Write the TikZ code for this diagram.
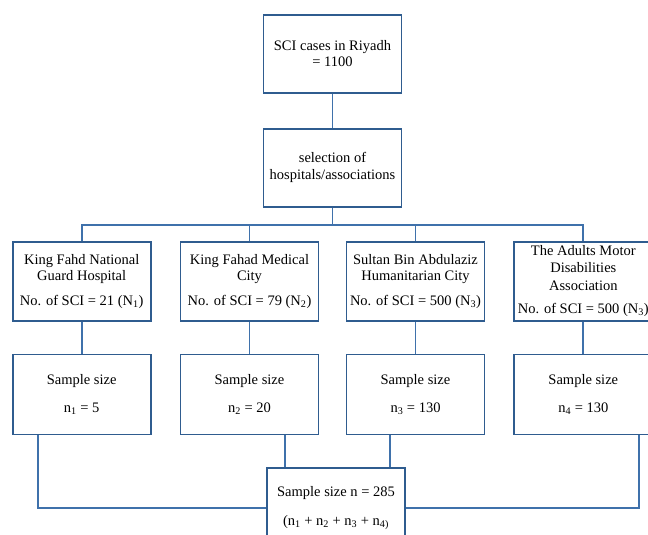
\documentclass[tikz,border=0pt]{standalone}
\usepackage{fontspec}
\setmainfont{Liberation Serif}
\usepackage{xcolor}
\definecolor{dark-blue}{HTML}{2F5C8F}
\definecolor{mid-blue}{HTML}{3F71AB}
\usepackage{tikz}
\usetikzlibrary{positioning}
\tikzset{box/.style = {draw=dark-blue, line width=1.8pt, align=center, text centered, inner sep=2pt, minimum width=138pt, minimum height=78pt}}
\tikzset{hosp/.style = {box, minimum height=79pt}}
\tikzset{sample/.style = {box, minimum height=80pt}}
\tikzset{conn/.style = {draw=mid-blue, line width=1.8pt}}

\begin{document}
\begin{tikzpicture}[x=1pt, y=1pt,
  font=\fontsize{14.5pt}{16pt}\selectfont
]
\useasboundingbox (0,0) rectangle (648,-535);

\node[box] (top) at (332.5,-54) {SCI cases in Riyadh\\= 1100};
\node[box, below=34pt of top] (sel) {selection of\\[1pt]hospitals/associations};
\node[hosp, below=33pt of sel, xshift=-83pt] (h2) {
  King Fahad Medical\\City\\[9pt]
  No. of SCI = 79 (N\textsubscript{2})
};
\node[hosp, below=33pt of sel, xshift=83pt] (h3) {
  Sultan Bin Abdulaziz\\Humanitarian City\\[9pt]
  No. of SCI = 500 (N\textsubscript{3})
};
\node[hosp, left=28pt of h2] (h1) {
  King Fahd National\\Guard Hospital\\[9pt]
  No. of SCI = 21 (N\textsubscript{1})
};
\node[hosp, right=28pt of h3] (h4) {
  The Adults Motor\\[1pt]Disabilities\\[2pt]Association\\[7pt]
  No. of SCI = 500 (N\textsubscript{3})
};

\node[sample, below=32pt of h1] (s1) {Sample size\\[12pt]n\textsubscript{1} = 5};
\node[sample, below=32pt of h2] (s2) {Sample size\\[12pt]n\textsubscript{2} = 20};
\node[sample, below=32pt of h3] (s3) {Sample size\\[12pt]n\textsubscript{3} = 130};
\node[sample, below=32pt of h4] (s4) {Sample size\\[12pt]n\textsubscript{4} = 130};

% bottom box sits between s2 and s3, a bit to the right
\coordinate (join) at (sel |- s2.south);
\node[box, below=32pt of join, xshift=3.5pt, minimum height=80pt] (total) {
  Sample size n = 285\\[13pt]
  (n\textsubscript{1} + n\textsubscript{2} + n\textsubscript{3} + n\textsubscript{4)}
};

\coordinate[below=17pt of sel] (fork);
\coordinate (d1) at ([xshift=-43.5pt]s1.south);
\coordinate (d2) at ([xshift=35.5pt]s2.south);
\coordinate (d3) at ([xshift=-25.5pt]s3.south);
\coordinate (d4) at ([xshift=55.5pt]s4.south);

\draw[conn]  (top) -- (sel);
\draw[conn]  (sel) -- (fork);
\draw[conn]  (h1.north) |- (fork) -| (h4.north);
\draw[conn]  (h2.north) |- (fork);
\draw[conn]  (h3.north) |- (fork);
\draw[conn]  (h1) -- (s1);
\draw[conn]  (h2) -- (s2);
\draw[conn]  (h3) -- (s3);
\draw[conn]  (h4) -- (s4);
\draw[conn]  (d1) |- (total.west);
\draw[conn]  (d4) |- (total.east);
\draw[conn]  (d2) -- (d2 |- total.north);
\draw[conn]  (d3) -- (d3 |- total.north);

\end{tikzpicture}
\end{document}
